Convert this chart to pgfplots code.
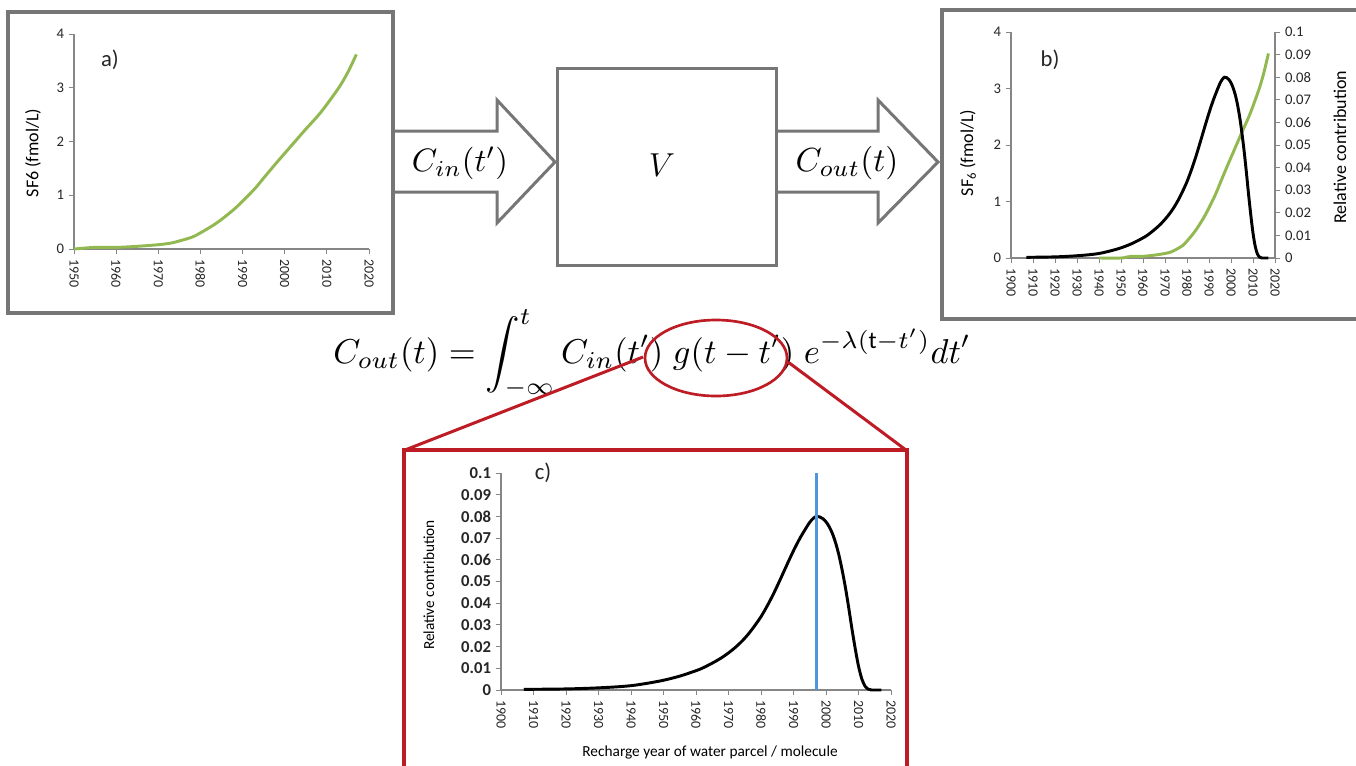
\documentclass[border=0pt]{standalone}
\usepackage{pgfplots}
\pgfplotsset{compat=1.18}
\usepackage{pgfplotstable}
\usepackage{graphicx}
\usepackage{fontspec}
\setmainfont{Carlito}

\definecolor{boxgray}{RGB}{118,118,118}
\definecolor{axgray}{RGB}{134,134,134}
\definecolor{sfgreen}{RGB}{146,184,80}
\definecolor{redbox}{RGB}{190,28,36}
\definecolor{ageblue}{RGB}{80,150,220}
\definecolor{txt}{RGB}{38,38,38}

% SF6 input curve (fmol/L)
\pgfplotstableread{
year sf6
1950 0.00
1953 0.02
1955 0.03
1960 0.03
1965 0.05
1970 0.08
1973 0.11
1975 0.15
1978 0.22
1980 0.30
1983 0.44
1985 0.55
1988 0.74
1990 0.89
1993 1.13
1995 1.32
1998 1.60
2000 1.78
2003 2.05
2005 2.23
2008 2.49
2010 2.69
2013 3.02
2015 3.29
2017 3.62
}\sfsix

% SF6 curve as shown in panel b
\pgfplotstableread{
year sf6
1940 0.00
1950 0.00
1953 0.02
1955 0.03
1960 0.03
1965 0.05
1970 0.08
1973 0.11
1975 0.15
1978 0.22
1980 0.30
1983 0.44
1985 0.55
1988 0.74
1990 0.89
1993 1.13
1995 1.32
1998 1.60
2000 1.78
2003 2.05
2005 2.23
2008 2.49
2010 2.69
2013 3.02
2015 3.29
2017 3.62
}\sfsixb

% relative contribution (age distribution)
\pgfplotstableread{
year rel
1907 0.0003
1915 0.0004
1920 0.0005
1925 0.0007
1930 0.0010
1935 0.0014
1940 0.0020
1945 0.0031
1950 0.0045
1955 0.0064
1960 0.0089
1962 0.0101
1964 0.0116
1966 0.0132
1968 0.0150
1970 0.0171
1972 0.0195
1974 0.0223
1976 0.0256
1978 0.0295
1980 0.0338
1982 0.0390
1984 0.0448
1986 0.0512
1988 0.0578
1990 0.0642
1992 0.0700
1994 0.0750
1995 0.0773
1996 0.0790
1997 0.0800
1998 0.0798
1999 0.0790
2000 0.0775
2001 0.0752
2002 0.0720
2003 0.0676
2004 0.0620
2005 0.0550
2006 0.0470
2007 0.0378
2008 0.0280
2009 0.0190
2010 0.0110
2011 0.0052
2012 0.0018
2013 0.0004
2014 0.0000
2015 0.0000
2017 0.0000
}\reldist

\pgfplotsset{
  panel/.style={
    scale only axis, anchor=south west,
    axis lines=left,
    axis line style={-, draw=axgray, line width=0.8pt},
    tick style={draw=axgray, line width=0.7pt},
    tick align=outside, major tick length=4pt,
    /pgf/number format/assume math mode=true,
    xticklabel style={rotate=-90, anchor=west, text=txt,
      font=\fontsize{10.5}{12}\selectfont, /pgf/number format/1000 sep={}},
    yticklabel style={text=txt, font=\fontsize{11}{12}\selectfont,
      /pgf/number format/fixed, /pgf/number format/precision=2},
    label style={text=txt},
    clip=false,
  },
}

\begin{document}
\begin{tikzpicture}
\useasboundingbox (0,0) rectangle (1017pt,-573.75pt);
\clip (0,0) rectangle (1017pt,-573.75pt);

\begin{scope}[x=0.75pt,y=-0.75pt]
  % arrows
  \draw[boxgray, line width=2.25pt, fill=white, line join=miter]
    (393,131) -- (497,131) -- (497,100) -- (555,162) -- (497,223) -- (497,192) -- (393,192) -- cycle;
  \draw[boxgray, line width=2.25pt, fill=white, line join=miter]
    (776,131) -- (878,131) -- (878,100) -- (938,162) -- (878,223) -- (878,192) -- (776,192) -- cycle;
  % V box
  \draw[boxgray, line width=2.25pt, fill=white] (557,68) rectangle (776,265);
  \node at (662,165) {\fontsize{32}{36}\selectfont$V$};
  \node at (460,163) {\resizebox{72pt}{!}{$C_{in}(t')$}};
  \node at (847,163) {\resizebox{77pt}{!}{$C_{out}(t)$}};
  % panel boxes
  \draw[boxgray, line width=3pt, fill=white] (8,12) rectangle (393,313);
  \draw[boxgray, line width=3pt, fill=white] (942,10) rectangle (1400,319);
  % equation
  \node[anchor=base west, inner sep=0pt] at (333,363)
    {\resizebox{478pt}{!}{$\displaystyle C_{out}(t) = \int_{-\infty}^{t} C_{in}(t')\; g(t-t')\; e^{-\lambda(\mathrm{t}-t')}dt'$}};
  % red zoom
  \draw[redbox, line width=2pt] (716,358) ellipse [x radius=71, y radius=38];
  \draw[redbox, line width=2.25pt] (643,357) -- (405,450);
  \draw[redbox, line width=2.25pt] (788,362) -- (906,450);
  \draw[redbox, line width=3pt, fill=white] (404,450) rectangle (907,800);
\end{scope}

% ---------- panel a ----------
\begin{axis}[panel, at={(55.5pt,-186.75pt)}, width=221.25pt, height=161.25pt,
  xmin=1950, xmax=2020, ymin=0, ymax=4,
  xtick={1950,1960,...,2020}, ytick={0,1,2,3,4},
  ylabel={SF6 (fmol/L)},
  every axis y label/.style={at={(axis description cs:-0.139,0.447)}, rotate=90, anchor=center, font=\fontsize{13.5}{15}\selectfont},
]
\addplot[sfgreen, line width=2.2pt, smooth] table[x=year, y=sf6] {\sfsix};
\node[anchor=center, font=\fontsize{17}{19}\selectfont, text=txt] at (axis description cs:0.122,0.879) {a)};
\end{axis}

% ---------- panel b ----------
\begin{axis}[panel, at={(758.25pt,-193.5pt)}, width=198pt, height=169.5pt,
  xmin=1900, xmax=2020, ymin=0, ymax=4,
  xtick={1900,1910,...,2020}, ytick={0,1,2,3,4},
  ylabel={SF\textsubscript{6} (fmol/L)},
  every axis y label/.style={at={(axis description cs:-0.163,0.465)}, rotate=90, anchor=center, font=\fontsize{13.5}{15}\selectfont},
]
\addplot[sfgreen, line width=2.2pt, smooth] table[x=year, y=sf6] {\sfsixb};
\node[anchor=center, font=\fontsize{17}{19}\selectfont, text=txt] at (axis description cs:0.148,0.876) {b)};
\end{axis}
\begin{axis}[panel, at={(758.25pt,-193.5pt)}, width=198pt, height=169.5pt,
  axis x line=none, axis y line*=right,
  xmin=1900, xmax=2020, ymin=0, ymax=0.1,
  ytick={0,0.01,0.02,0.03,0.04,0.05,0.06,0.07,0.08,0.09,0.1},
  ylabel={Relative contribution},
  every axis y label/.style={at={(axis description cs:1.246,0.49)}, rotate=90, anchor=center, font=\fontsize{13.5}{15}\selectfont},
]
\addplot[black, line width=2.2pt, smooth] table[x=year, y=rel] {\reldist};
\end{axis}

% ---------- panel c ----------
\begin{axis}[panel, at={(375.75pt,-517.5pt)}, width=292.5pt, height=162.75pt,
  xmin=1900, xmax=2020, ymin=0, ymax=0.1,
  xtick={1900,1910,...,2020},
  ytick={0,0.01,0.02,0.03,0.04,0.05,0.06,0.07,0.08,0.09,0.1},
  yticklabel style={font=\bfseries\fontsize{12.5}{14}\selectfont},
  ylabel={Relative contribution},
  xlabel={Recharge year of water parcel / molecule},
  every axis y label/.style={at={(axis description cs:-0.185,0.484)}, rotate=90, anchor=center, font=\fontsize{11.5}{13}\selectfont},
  every axis x label/.style={at={(axis description cs:0.536,-0.286)}, anchor=center, font=\fontsize{11.5}{13}\selectfont},
]
\addplot[black, line width=2.2pt, smooth] table[x=year, y=rel] {\reldist};
\addplot[ageblue, line width=2.4pt] coordinates {(1997,0) (1997,0.1)};
\node[anchor=center, font=\fontsize{17}{19}\selectfont, text=txt] at (axis description cs:0.108,1.0) {c)};
\end{axis}
\end{tikzpicture}
\end{document}
